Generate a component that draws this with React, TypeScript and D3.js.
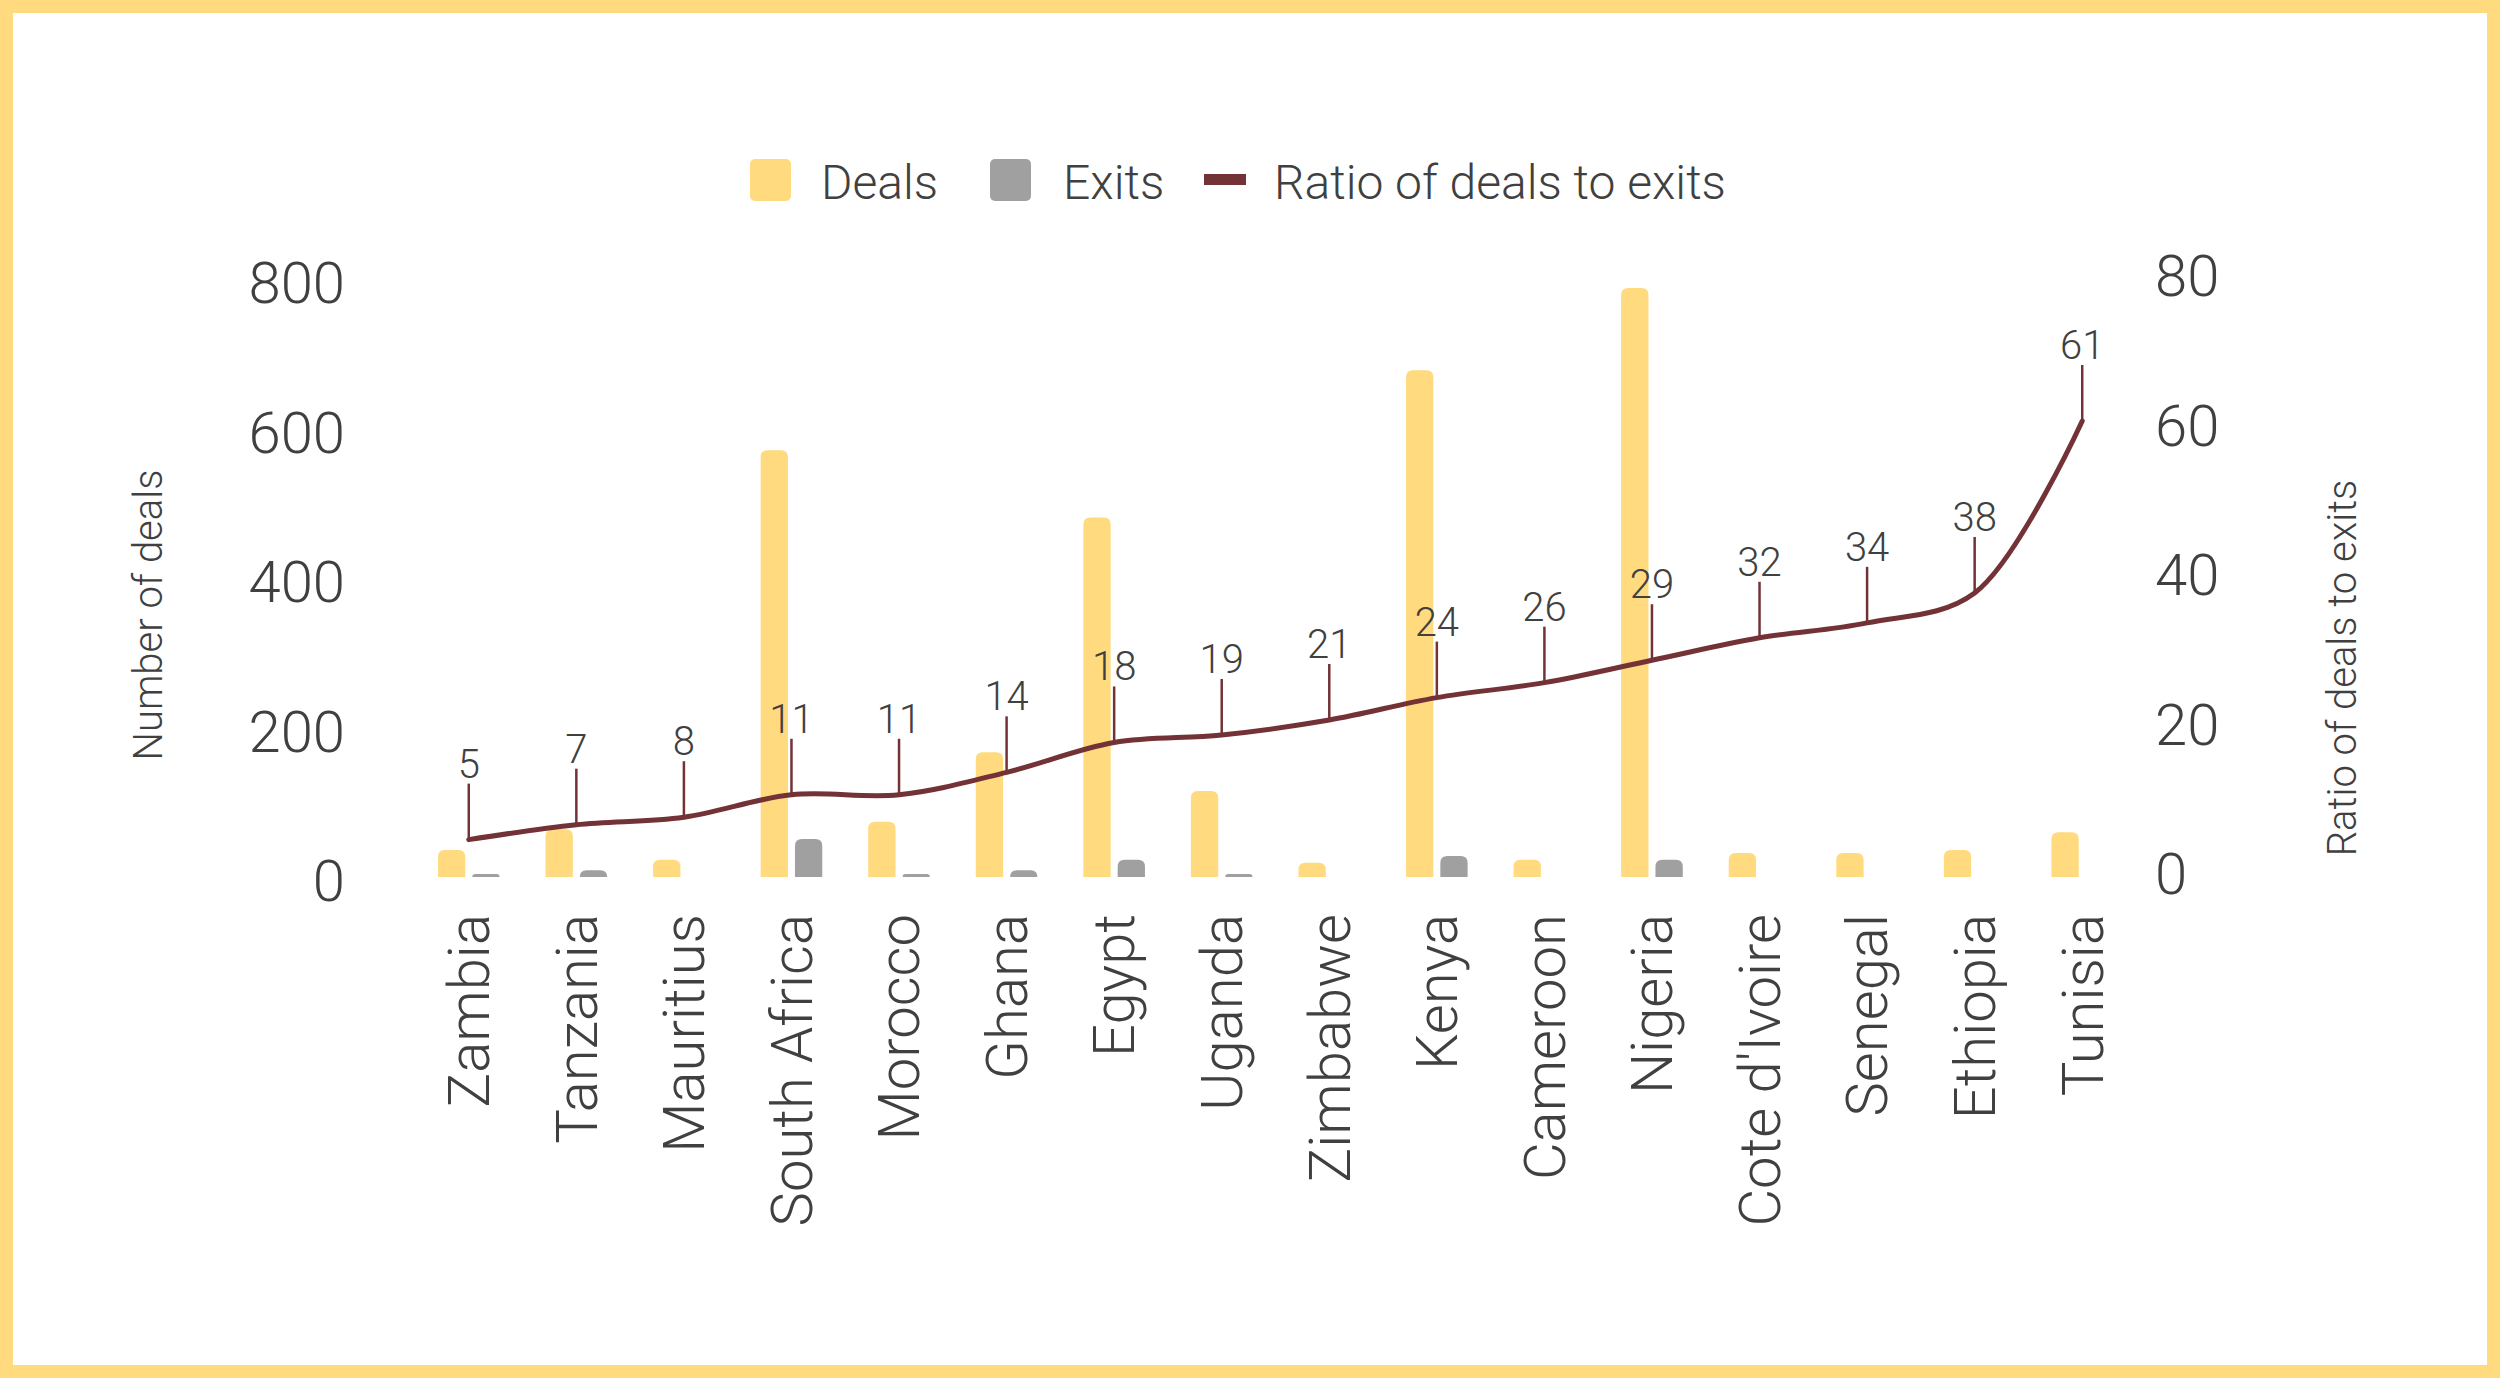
import React from "react";
import * as d3 from "d3";

const categories = [
  "Zambia",
  "Tanzania",
  "Mauritius",
  "South Africa",
  "Morocco",
  "Ghana",
  "Egypt",
  "Uganda",
  "Zimbabwe",
  "Kenya",
  "Cameroon",
  "Nigeria",
  "Cote d'Ivoire",
  "Senegal",
  "Ethiopia",
  "Tunisia",
];
const deals = [36, 64, 23, 571, 74, 167, 481, 115, 19, 678, 23, 788, 32, 32, 36, 60];
const exits = [4, 9, 0, 51, 4, 9, 23, 4, 0, 28, 0, 23, 0, 0, 0, 0];
const ratio = [5, 7, 8, 11, 11, 14, 18, 19, 21, 24, 26, 29, 32, 34, 38, 61];
const leftTicks = [0, 200, 400, 600, 800];
const rightTicks = [0, 20, 40, 60, 80];

const W = 2500;
const H = 1378;
const YELLOW = "#FFDA7E";
const GREY = "#A0A0A0";
const MAROON = "#733236";
const TEXT = "#404040";
const FONT = "Roboto, 'Open Sans', sans-serif";

// bar with rounded top corners
const roundedTop = (x: number, y: number, w: number, h: number, r: number) => {
  const rr = Math.min(r, h, w / 2);
  return `M${x},${y + h}V${y + rr}Q${x},${y} ${x + rr},${y}H${x + w - rr}Q${x + w},${y} ${x + w},${y + rr}V${y + h}Z`;
};

export default function App() {
  const x = d3.scaleBand<string>().domain(categories).range([415, 2136]).padding(0);
  const sub = d3
    .scaleBand<string>()
    .domain(["deals", "exits"])
    .range([0, x.bandwidth()])
    .paddingInner(0.204)
    .paddingOuter(0.67);
  const yL = d3.scaleLinear().domain([0, 800]).range([877, 279]);
  const yR = d3.scaleLinear().domain([0, 80]).range([877, 279]);
  const cx = (c: string) => (x(c) as number) + x.bandwidth() / 2;

  const line = d3
    .line<number>()
    .x((d, i) => cx(categories[i]))
    .y((d) => yR(d))
    .curve(d3.curveCatmullRom.alpha(0.5));

  const stem = 56;

  return (
    <div style={{ position: "absolute", left: 0, top: 0 }}>
      <svg width={W} height={H} style={{ display: "block" }}>
        <rect x={0} y={0} width={W} height={H} fill={YELLOW} />
        <rect x={13} y={13} width={W - 26} height={H - 26} fill="#fff" />

        {/* legend */}
        <g fontFamily={FONT} fontWeight={300} fontSize={48} fill={TEXT}>
          <rect x={750} y={159} width={41} height={42} rx={5} fill={YELLOW} />
          <text x={821} y={199}>Deals</text>
          <rect x={990} y={159} width={41} height={42} rx={5} fill={GREY} />
          <text x={1063} y={199}>Exits</text>
          <rect x={1204} y={174} width={42} height={11} fill={MAROON} />
          <text x={1274} y={199}>Ratio of deals to exits</text>
        </g>

        {/* left axis */}
        <g fontFamily={FONT} fontWeight={300} fontSize={58} fill={TEXT}>
          {leftTicks.map((t) => (
            <text key={t} x={345} y={yL(t) + 4} dy="0.35em" textAnchor="end">
              {t}
            </text>
          ))}
          {rightTicks.map((t) => (
            <text key={t} x={2155} y={yR(t) - 3} dy="0.35em" textAnchor="start">
              {t}
            </text>
          ))}
        </g>
        <text
          transform={`translate(148,615) rotate(-90)`}
          dy="0.35em"
          textAnchor="middle"
          fontFamily={FONT}
          fontWeight={300}
          fontSize={40}
          fill={TEXT}
        >
          Number of deals
        </text>
        <text
          transform={`translate(2342,668) rotate(-90)`}
          dy="0.35em"
          textAnchor="middle"
          fontFamily={FONT}
          fontWeight={300}
          fontSize={40}
          fill={TEXT}
        >
          Ratio of deals to exits
        </text>

        {/* bars */}
        <g>
          {categories.map((c, i) => (
            <g key={c} transform={`translate(${x(c)},0)`}>
              {deals[i] > 0 && (
                <path
                  d={roundedTop(sub("deals") as number, yL(deals[i]), sub.bandwidth(), yL(0) - yL(deals[i]), 7)}
                  fill={YELLOW}
                />
              )}
              {exits[i] > 0 && (
                <path
                  d={roundedTop(sub("exits") as number, yL(exits[i]), sub.bandwidth(), yL(0) - yL(exits[i]), 7)}
                  fill={GREY}
                />
              )}
            </g>
          ))}
        </g>

        {/* ratio line */}
        <path d={line(ratio) as string} fill="none" stroke={MAROON} strokeWidth={5} strokeLinecap="round" />
        <g fontFamily={FONT} fontWeight={300} fontSize={40} fill={TEXT}>
          {ratio.map((r, i) => (
            <g key={i}>
              <line
                x1={cx(categories[i])}
                x2={cx(categories[i])}
                y1={yR(r)}
                y2={yR(r) - stem}
                stroke={MAROON}
                strokeWidth={2.5}
              />
              <text x={cx(categories[i])} y={yR(r) - stem - 6} textAnchor="middle">
                {r}
              </text>
            </g>
          ))}
        </g>

        {/* category labels */}
        <g fontFamily={FONT} fontWeight={300} fontSize={58} fill={TEXT}>
          {categories.map((c) => (
            <text key={c} transform={`translate(${cx(c)},914) rotate(-90)`} dy="0.35em" textAnchor="end">
              {c}
            </text>
          ))}
        </g>
      </svg>
    </div>
  );
}
